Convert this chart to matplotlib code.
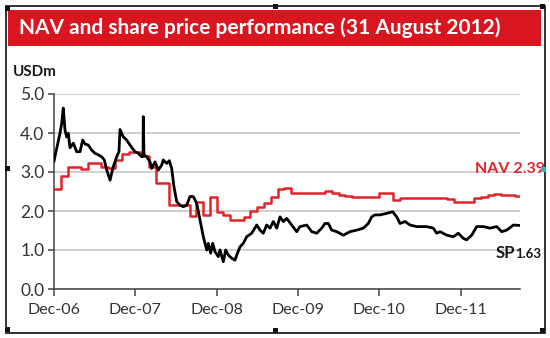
import matplotlib
matplotlib.use("Agg")
import matplotlib.pyplot as plt
from matplotlib.patches import Rectangle

plt.rcParams['font.family'] = ['Lato', 'DejaVu Sans']

W, H = 550, 338

# x positions are months after 1 Dec 2006
tick_months = [0, 12, 24, 36, 48, 60]
tick_labels = ["Dec-06", "Dec-07", "Dec-08", "Dec-09", "Dec-10", "Dec-11"]
y_ticks = [0.0, 1.0, 2.0, 3.0, 4.0, 5.0]
end_month = 68.78

# Net asset value, month-end steps (USDm)
nav_values = [2.56, 2.90, 3.13, 3.13, 3.08, 3.24, 3.24, 3.13, 3.10, 3.30,
              3.45, 3.51, 3.51, 3.40, 3.13, 2.72, 2.72, 2.15, 2.15, 2.15,
              1.87, 2.23, 1.90, 2.36, 1.97, 1.90, 1.77, 1.77, 1.85, 2.00,
              2.10, 2.21, 2.36, 2.56, 2.59, 2.46, 2.46, 2.46, 2.46, 2.46,
              2.51, 2.46, 2.41, 2.38, 2.36, 2.36, 2.36, 2.36, 2.46, 2.46,
              2.28, 2.33, 2.33, 2.33, 2.33, 2.33, 2.33, 2.33, 2.30, 2.23,
              2.23, 2.23, 2.33, 2.36, 2.41, 2.44, 2.41, 2.40, 2.39]
nav_months = list(range(len(nav_values)))

# Share price (USDm)
sp_months = [0.00, 0.89, 1.14, 1.37, 1.62, 1.87, 2.11, 2.36, 2.85, 3.35,
             3.84, 4.24, 4.58, 5.06, 5.56, 6.05, 6.54, 7.04, 7.42, 7.78,
             8.27, 8.75, 9.25, 9.59, 9.74, 10.23, 10.73, 11.22, 11.96, 12.44,
             12.94, 13.14, 13.18, 13.28, 13.68, 14.17, 14.42, 14.91, 15.39, 15.90,
             16.13, 16.63, 17.02, 17.37, 17.71, 18.11, 18.60, 19.08, 19.59, 20.07,
             20.56, 21.06, 21.55, 22.04, 22.54, 22.77, 23.13, 23.42, 23.76, 24.25,
             24.50, 24.99, 25.34, 25.73, 26.23, 26.72, 26.97, 27.45, 27.94, 28.44,
             29.18, 29.92, 30.41, 30.89, 31.39, 31.88, 32.37, 32.87, 33.36, 33.84,
             34.35, 35.08, 35.82, 36.31, 37.30, 38.04, 38.78, 39.51, 40.00, 40.49,
             40.99, 41.73, 42.70, 43.69, 44.68, 45.65, 46.39, 46.89, 47.38, 48.12,
             49.11, 49.99, 50.58, 51.07, 51.81, 52.55, 53.54, 55.01, 55.98, 56.49,
             56.97, 57.96, 58.94, 59.67, 60.41, 60.91, 61.65, 62.39, 63.36, 64.35,
             65.34, 66.08, 66.82, 67.80, 68.78]
sp_values = [3.28, 4.00, 4.25, 4.64, 4.08, 3.90, 3.99, 3.62, 3.74, 3.52,
             3.52, 3.82, 3.72, 3.69, 3.56, 3.48, 3.44, 3.39, 3.31, 3.05,
             2.79, 3.14, 3.39, 3.52, 4.09, 3.90, 3.82, 3.69, 3.52, 3.48,
             3.39, 3.40, 4.42, 3.44, 3.39, 3.26, 3.09, 3.26, 3.05, 3.18,
             3.31, 3.22, 3.29, 3.09, 2.62, 2.24, 2.15, 2.11, 2.15, 2.37,
             2.37, 2.20, 1.77, 1.34, 1.00, 1.17, 0.92, 1.17, 0.96, 0.83,
             1.00, 0.70, 1.00, 0.87, 0.79, 0.74, 0.87, 1.08, 1.17, 1.34,
             1.43, 1.64, 1.51, 1.43, 1.64, 1.56, 1.73, 1.56, 1.85, 1.73,
             1.81, 1.64, 1.47, 1.60, 1.64, 1.47, 1.43, 1.56, 1.68, 1.68,
             1.51, 1.47, 1.38, 1.47, 1.51, 1.56, 1.68, 1.85, 1.90, 1.90,
             1.94, 1.98, 1.85, 1.68, 1.73, 1.64, 1.60, 1.60, 1.56, 1.43,
             1.47, 1.38, 1.34, 1.43, 1.30, 1.26, 1.38, 1.60, 1.60, 1.56,
             1.60, 1.47, 1.51, 1.64, 1.63]

title = "NAV and share price performance (31 August 2012)"
unit_label = "USDm"
nav_label = "NAV 2.39"
sp_name, sp_last = "SP", "1.63"

RED = "#d9161f"
NAV_RED = "#e0242b"
TEXT = "#333333"


def fx(x):
    return x / W


def fy(y):
    return 1 - y / H


fig = plt.figure(figsize=(W / 100, H / 100), dpi=100, facecolor="white")

# outer frame
fig.patches.append(Rectangle((fx(5.5), fy(333)), fx(539.5), (333 - 5.5) / H,
                             transform=fig.transFigure, fill=False,
                             edgecolor="#111111", linewidth=1.2))
# title banner
fig.patches.append(Rectangle((fx(8), fy(46)), fx(533), 36 / H,
                             transform=fig.transFigure, facecolor=RED,
                             edgecolor="none"))
fig.text(fx(19), fy(28), title, color="white", fontsize=15,
         fontweight="bold", va="center", ha="left")

# selection handles on the frame
for hx, hy, col in [(7, 8, "#111111"), (275, 6, "#111111"), (542, 6, "#111111"),
                    (7, 168, "#111111"), (543, 169, "#2ab5c8"),
                    (7, 329, "#111111"), (275, 330, "#111111"),
                    (542, 330, "#111111")]:
    fig.patches.append(Rectangle((fx(hx - 2.5), fy(hy + 2.5)), 5 / W, 5 / H,
                                 transform=fig.transFigure, facecolor=col,
                                 edgecolor="none", zorder=5))

ax = fig.add_axes([fx(54), fy(289), fx(520) - fx(54), (289 - 94) / H])
ax.set_xlim(0, end_month)
ax.set_ylim(0, 5)

ax.plot(nav_months + [end_month], nav_values + [nav_values[-1]],
        drawstyle="steps-post", color=NAV_RED, linewidth=1.8, zorder=3)
ax.plot(sp_months, sp_values, color="black", linewidth=2.0, zorder=4,
        solid_joinstyle="round")

ax.set_yticks(y_ticks)
ax.set_yticklabels([f"{v:.1f}" for v in y_ticks])
ax.set_xticks(tick_months)
ax.set_xticklabels(tick_labels)
ax.yaxis.grid(True, color="#c4c4c4", linewidth=1.1)
ax.set_axisbelow(True)
for s in ["top", "right"]:
    ax.spines[s].set_visible(False)
for s in ["left", "bottom"]:
    ax.spines[s].set_color("#444444")
    ax.spines[s].set_linewidth(1.1)
ax.tick_params(axis="y", direction="out", length=4, width=1.1,
               color="#444444", labelsize=12.5, labelcolor=TEXT, pad=3)
ax.tick_params(axis="x", direction="out", length=5, width=1.1,
               color="#444444", labelsize=11.5, labelcolor=TEXT, pad=5)

fig.text(fx(13), fy(72), unit_label, fontsize=11, fontweight="bold",
         color="#1a1a1a", va="center", ha="left")
fig.text(fx(475), fy(169), nav_label, fontsize=11.5, fontweight="bold",
         color=NAV_RED, va="center", ha="left")
fig.text(fx(496), fy(253), sp_name, fontsize=12, fontweight="bold",
         color="#1a1a1a", va="center", ha="left")
fig.text(fx(515), fy(253.5), sp_last, fontsize=9.5, fontweight="bold",
         color="#1a1a1a", va="center", ha="left")

fig.savefig("out.png", dpi=100, facecolor="white")
